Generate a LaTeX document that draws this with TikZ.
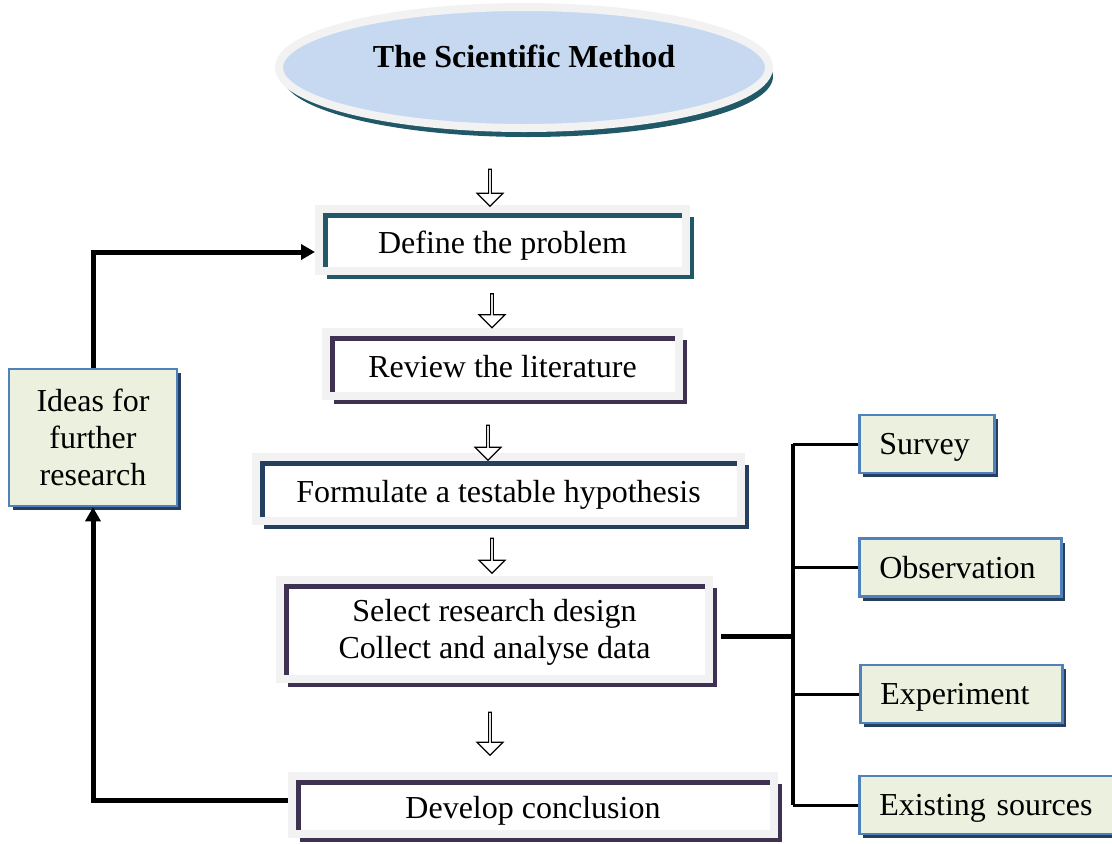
\documentclass[tikz,border=0pt]{standalone}
\usepackage{fontspec}
\setmainfont{Liberation Serif}
\usepackage{tikz}
\usetikzlibrary{shapes.geometric, shapes.arrows, shadows, arrows.meta, calc}

\definecolor{ringgray}{HTML}{F2F2F2}
\definecolor{titleblue}{HTML}{C6D9F1}
\definecolor{tealdark}{HTML}{215868}
\definecolor{plumdark}{HTML}{3F3151}
\definecolor{navydark}{HTML}{243F60}
\definecolor{sidegreen}{HTML}{EBF1DE}
\definecolor{sideblue}{HTML}{4F81BD}

\begin{document}
\begin{tikzpicture}[
    x=1pt, y=-1pt,
    titleshape/.style={draw=ringgray, line width=8pt, ellipse, fill=titleblue, minimum width=490pt, minimum height=121pt, text height=22pt, text depth=22pt, font=\fontsize{32}{37}\selectfont\bfseries, drop shadow={shadow xshift=4pt, shadow yshift=-9pt, fill=tealdark, opacity=1}},
    stepbox/.style={draw=ringgray, line width=8pt, fill=white, inner sep=0pt, align=center, text height=30pt, text depth=4pt, font=\fontsize{32}{37}\selectfont, drop shadow={shadow xshift=8pt, shadow yshift=-8pt, fill=#1, opacity=1}, path picture={\draw[#1, line width=5pt] ([shift={(6pt,4pt)}]path picture bounding box.south west) |- ([shift={(-4pt,-6pt)}]path picture bounding box.north east);}},
    sidebox/.style={draw=sideblue, line width=2.5pt, fill=sidegreen, align=center, font=\fontsize{32}{37}\selectfont, drop shadow={shadow xshift=4pt, shadow yshift=-4pt, fill=navydark, opacity=1}},
    methodbox/.style={sidebox, anchor=west, minimum height=58pt, inner xsep=20pt, text width=#1, align=left, text height=25pt, text depth=4pt},
    downarrow/.style={single arrow, draw, line width=1.2pt, fill=white, rotate=-90, minimum width=26pt, minimum height=#1, single arrow head extend=5pt, inner sep=0pt},
    backline/.style={line width=5pt, -{Triangle[length=14pt, width=15pt]}},
    busline/.style={line width=4.5pt},
    branchline/.style={line width=3pt}
]
    \useasboundingbox (0,0) rectangle (1112,844);

    % ================= TITLE =================
    \node[titleshape] (title) at (524, 67.5) {The Scientific Method};

    % ================= MAIN STEPS =================
    \node[stepbox=tealdark, minimum width=367pt, minimum height=62pt] (define) at (502.5, 240) {Define the problem};
    \node[stepbox=plumdark, minimum width=353pt, minimum height=64pt] (review) at (502.5, 364) {Review the literature};
    \node[stepbox=navydark, minimum width=485pt, minimum height=64pt] (hypothesis) at (498.5, 489) {Formulate a testable hypothesis};
    \node[stepbox=plumdark, minimum width=429pt, minimum height=99pt, text height=62pt] (select) at (494.5, 629.5) {Select research design\\Collect and analyse data};
    \node[stepbox=plumdark, minimum width=482pt, minimum height=58pt] (conclusion) at (533, 805) {Develop conclusion};

    % hollow arrows between the steps
    \node[downarrow=37pt] (arrA) at (490, 187) {};
    \node[downarrow=34pt] (arrB) at (492, 310) {};
    \node[downarrow=35pt] (arrC) at (488, 442) {};
    \node[downarrow=35pt] (arrD) at (492, 555) {};
    \node[downarrow=43pt] (arrE) at (490, 733) {};

    % ================= FEEDBACK =================
    \node[sidebox, minimum width=168pt, minimum height=137pt] (ideas) at (93, 437.5) {Ideas for\\further\\research};

    \draw[backline] ([yshift=5pt]conclusion.west) -| (ideas.south);
    \draw[backline] (ideas.north) |- ([yshift=-12pt]define.west);

    % ================= DATA SOURCES =================
    \node[methodbox=95pt] (survey) at (858, 444) {Survey};
    \node[methodbox=162pt] (observation) at (858, 567.5) {Observation};
    \node[methodbox=162pt] (experiment) at (859, 694) {Experiment};
    \node[methodbox=240pt] (existing) at (858, 805) {Existing sources};

    \coordinate (bus) at (793, 0);
    \draw[busline] (survey.west -| bus) -- (existing.west -| bus);
    \draw[busline] ([shift={(8pt,-7pt)}]select.east) -- ($(bus |- select.east)+(0pt,-7pt)$);
    \foreach \m in {survey, observation, experiment, existing}
        \draw[branchline] (bus |- \m.west) -- (\m.west);

\end{tikzpicture}
\end{document}
